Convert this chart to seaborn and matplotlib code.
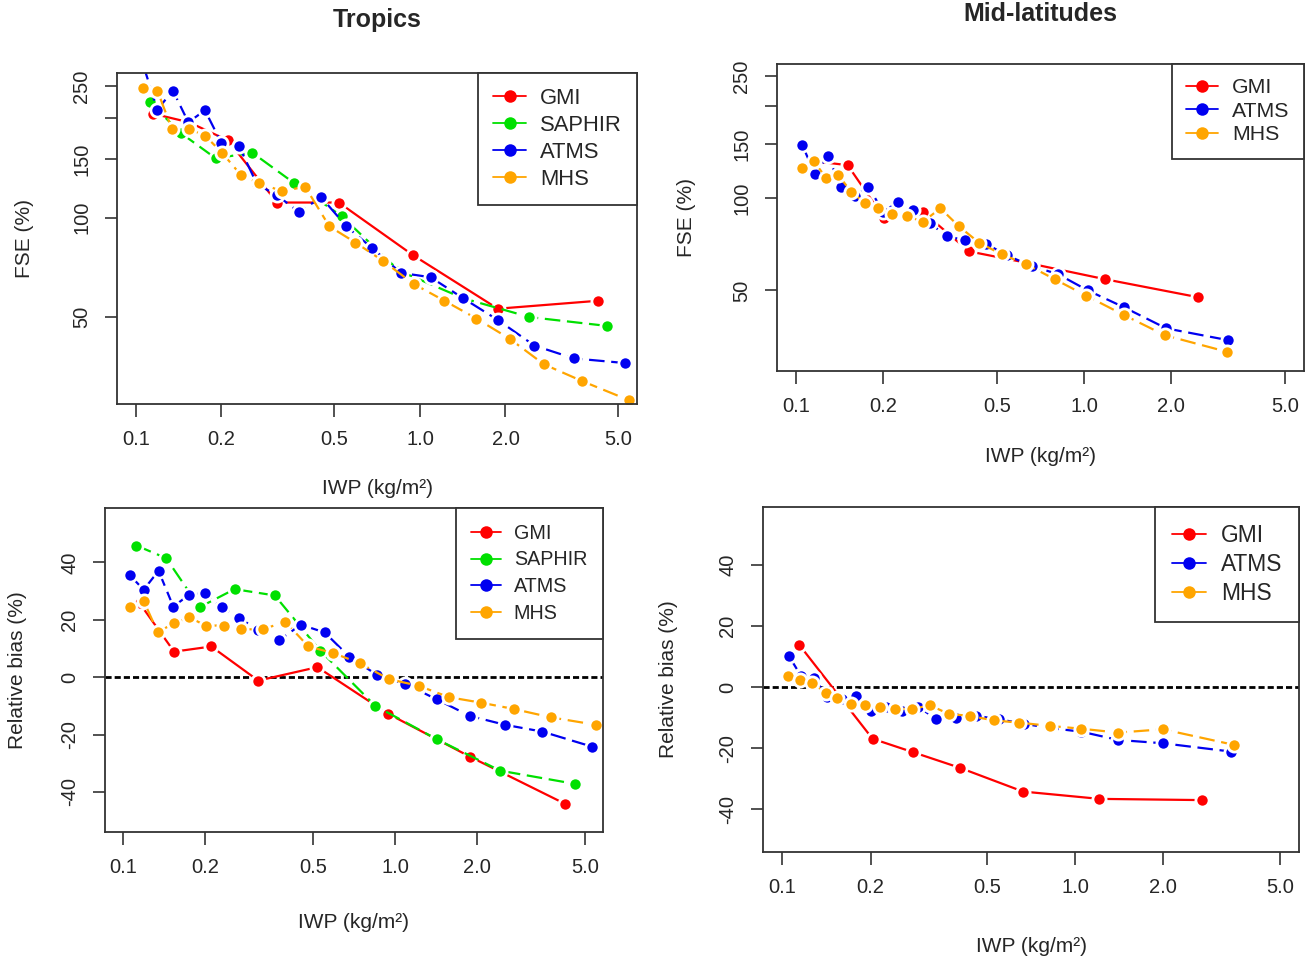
import matplotlib
matplotlib.use('Agg')
import matplotlib.pyplot as plt
from matplotlib.lines import Line2D
from matplotlib.ticker import NullLocator
import seaborn as sns

# ---------------- data ----------------
# Tropics (same IWP bins for FSE and bias)
gmi_x_tr = [0.115, 0.154, 0.211, 0.314, 0.518, 0.944, 1.88, 4.22]
gmi_fse_tr = [206, 194, 171, 111, 111, 77, 53, 56]
gmi_bias_tr = [25.8, 8.9, 10.7, -1.2, 3.5, -12.8, -27.7, -44.2]

saphir_x_tr = [0.112, 0.144, 0.191, 0.257, 0.361, 0.53, 0.845, 1.42, 2.43, 4.57]
saphir_fse_tr = [223, 180, 151, 157, 127, 101, 69, 57, 50, 47]
saphir_bias_tr = [45.9, 41.5, 24.4, 30.7, 28.5, 9.3, -10.0, -21.6, -32.6, -37.2]

atms_x_tr = [0.106, 0.119, 0.135, 0.153, 0.175, 0.2, 0.231, 0.267, 0.313, 0.374,
             0.45, 0.551, 0.677, 0.857, 1.09, 1.42, 1.88, 2.53, 3.48, 5.28]
atms_fse_tr = [290, 212, 242, 194, 211, 168, 164, 126, 117, 104,
               115, 94, 81, 68, 66, 57, 49, 41, 37.5, 36.3]
atms_bias_tr = [35.5, 30.5, 37.1, 24.6, 28.8, 29.3, 24.3, 20.8, 16.3, 12.8,
                18.3, 15.6, 7.2, 0.8, -2.4, -7.7, -13.5, -16.6, -19.0, -24.2]

mhs_x_tr = [0.106, 0.119, 0.134, 0.154, 0.175, 0.201, 0.235, 0.272, 0.328, 0.394,
            0.48, 0.593, 0.74, 0.95, 1.22, 1.58, 2.07, 2.73, 3.73, 5.46]
mhs_fse_tr = [246, 242, 185, 185, 177, 157, 134, 127, 120, 124,
              94, 84, 74, 63, 56, 49.5, 43, 36, 32, 28]
mhs_bias_tr = [24.6, 26.6, 15.7, 18.8, 20.9, 18.0, 18.0, 16.7, 16.7, 19.4,
               10.7, 8.4, 4.9, -0.7, -3.0, -7.0, -8.9, -11.1, -14.0, -16.6]

# Mid-latitudes, FSE
gmi_x_ml_fse = [0.114, 0.151, 0.202, 0.276, 0.399, 0.66, 1.18, 2.49]
gmi_fse_ml = [132, 128, 86, 90, 67, 61, 54.4, 47.5]
atms_x_ml_fse = [0.105, 0.116, 0.129, 0.143, 0.160, 0.178, 0.201, 0.225, 0.254, 0.291,
                 0.333, 0.385, 0.456, 0.540, 0.659, 0.811, 1.03, 1.38, 1.93, 3.17]
atms_fse_ml = [149, 120, 137, 109, 101.5, 109, 90, 97, 91.4, 83,
               75, 73, 71, 65, 60, 56.5, 50, 44, 37.6, 34.4]
mhs_x_ml_fse = [0.105, 0.115, 0.127, 0.140, 0.155, 0.173, 0.193, 0.216, 0.242, 0.276,
                0.317, 0.367, 0.432, 0.519, 0.630, 0.79, 1.02, 1.38, 1.91, 3.15]
mhs_fse_ml = [125.6, 132, 116.5, 119, 105, 96.5, 92.6, 88.7, 87.3, 83.7,
              92.6, 81, 71.5, 65.5, 60.8, 54.4, 48, 41.5, 35.7, 31.5]

# Mid-latitudes, relative bias
gmi_x_ml_bias = [0.114, 0.203, 0.279, 0.403, 0.663, 1.21, 2.70]
gmi_bias_ml = [13.9, -16.9, -21.3, -26.4, -34.2, -36.6, -37.0]
atms_x_ml_bias = [0.105, 0.116, 0.128, 0.142, 0.160, 0.178, 0.200, 0.225, 0.257, 0.290,
                  0.335, 0.390, 0.459, 0.547, 0.666, 0.821, 1.05, 1.40, 2.0, 3.40]
atms_bias_ml = [10.3, 3.5, 3.0, -3.1, -3.8, -2.9, -7.7, -6.4, -7.7, -6.4,
                -10.4, -10.2, -9.4, -10.5, -12.0, -13.4, -14.6, -17.3, -18.4, -21.1]
mhs_x_ml_bias = [0.1045, 0.115, 0.1265, 0.1405, 0.154, 0.172, 0.192, 0.215, 0.243, 0.277,
                 0.320, 0.370, 0.436, 0.526, 0.640, 0.817, 1.045, 1.40, 1.99, 3.48]
mhs_bias_ml = [3.5, 2.4, 1.3, -1.8, -3.6, -5.5, -6.0, -6.4, -7.1, -7.1,
               -6.0, -8.8, -9.4, -10.9, -11.6, -12.7, -13.6, -14.9, -13.8, -18.9]

x_ticks = [0.1, 0.2, 0.5, 1.0, 2.0, 5.0]
x_ticklabels = ['0.1', '0.2', '0.5', '1.0', '2.0', '5.0']
fse_ticks = [50, 100, 150, 200, 250]
fse_ticklabels = ['50', '100', '150', '', '250']
bias_ticks = [-40, -20, 0, 20, 40]
bias_ticklabels = ['-40', '-20', '0', '20', '40']

colors = {'GMI': '#FF0000', 'SAPHIR': '#00E000', 'ATMS': '#0000F0', 'MHS': '#FFA500'}
styles = {'GMI': '-', 'SAPHIR': (0, (7, 3)), 'ATMS': (0, (7, 3)), 'MHS': (0, (7, 3))}

# ---------------- figure ----------------
sns.set_style('white')
plt.rcParams['font.family'] = ['Liberation Sans', 'DejaVu Sans']

W, H = 1308, 966
fig = plt.figure(figsize=(W / 100, H / 100), dpi=100)


def draw_panel(box, series, kind, leg, ylab_x, xlab_y):
    x0, y0, x1, y1 = box
    ax = fig.add_axes([x0 / W, 1 - y1 / H, (x1 - x0) / W, (y1 - y0) / H])
    ax.set_xscale('log')
    if kind == 'fse':
        ax.set_yscale('log')
    else:
        ax.axhline(0, color='black', lw=2, ls=(0, (2.2, 1.1)), zorder=1)

    for name, xs, ys in series:
        sns.lineplot(x=xs, y=ys, ax=ax, color=colors[name], linestyle=styles[name],
                     lw=1.6, marker='o', markersize=9.5, markeredgecolor='white',
                     markeredgewidth=2, errorbar=None, sort=False)

    ax.set_xlim(0.0858, 5.81)
    ax.set_xticks(x_ticks)
    ax.set_xticklabels(x_ticklabels)
    ax.xaxis.set_minor_locator(NullLocator())
    if kind == 'fse':
        ax.set_ylim(27.3, 273.5)
        ax.set_yticks(fse_ticks)
        ax.set_yticklabels(fse_ticklabels)
        ax.yaxis.set_minor_locator(NullLocator())
        ax.set_ylabel('FSE (%)', fontsize=15)
    else:
        ax.set_ylim(-54, 59)
        ax.set_yticks(bias_ticks)
        ax.set_yticklabels(bias_ticklabels)
        ax.set_ylabel('Relative bias (%)', fontsize=15)
    ax.set_xlabel('IWP (kg/m²)', fontsize=15)

    ax.tick_params(direction='out', length=9, width=1.2, color='#333333',
                   labelsize=14.5, pad=9.5, bottom=True, left=True, top=False, right=False)
    ax.tick_params(axis='y', labelrotation=90)
    for t in ax.get_yticklabels():
        t.set_va('center')

    ax.xaxis.set_label_coords(0.5, -(xlab_y - y1) / (y1 - y0))
    ax.xaxis.label.set_va('center')
    ax.yaxis.set_label_coords((ylab_x - x0) / (x1 - x0), 0.5)
    ax.yaxis.label.set_va('center')

    for s in ax.spines.values():
        s.set_color('#333333')
        s.set_linewidth(1.3)

    size, spacing, pad = leg
    names = [s[0] for s in series]
    handles = [Line2D([0], [0], color=colors[n], lw=1.3, marker='o', markersize=9,
                      markeredgewidth=0) for n in names]
    lg = ax.legend(handles, names, loc='upper right', bbox_to_anchor=(1, 1),
                   borderaxespad=0, fontsize=size, frameon=True, fancybox=False,
                   framealpha=1, edgecolor='#333333', handlelength=1.5,
                   handletextpad=0.65, borderpad=pad, labelspacing=spacing)
    lg.get_frame().set_linewidth(1.3)
    return ax


draw_panel((117, 73, 637, 404),
           [('GMI', gmi_x_tr, gmi_fse_tr), ('SAPHIR', saphir_x_tr, saphir_fse_tr),
            ('ATMS', atms_x_tr, atms_fse_tr), ('MHS', mhs_x_tr, mhs_fse_tr)],
           'fse', (15.8, 0.27, 0.68), 25, 488)
draw_panel((777, 64, 1304, 371),
           [('GMI', gmi_x_ml_fse, gmi_fse_ml), ('ATMS', atms_x_ml_fse, atms_fse_ml),
            ('MHS', mhs_x_ml_fse, mhs_fse_ml)],
           'fse', (15.3, 0.21, 0.68), 686, 457)
draw_panel((105, 508, 603, 832),
           [('GMI', gmi_x_tr, gmi_bias_tr), ('SAPHIR', saphir_x_tr, saphir_bias_tr),
            ('ATMS', atms_x_tr, atms_bias_tr), ('MHS', mhs_x_tr, mhs_bias_tr)],
           'bias', (14.2, 0.39, 0.8), 18, 922)
draw_panel((763, 507, 1299, 852),
           [('GMI', gmi_x_ml_bias, gmi_bias_ml), ('ATMS', atms_x_ml_bias, atms_bias_ml),
            ('MHS', mhs_x_ml_bias, mhs_bias_ml)],
           'bias', (16.4, 0.27, 0.74), 668, 947)

fig.text(377 / W, 1 - 27 / H, 'Tropics', ha='center', va='baseline',
         fontsize=18, fontweight='bold')
fig.text(1040 / W, 1 - 21 / H, 'Mid-latitudes', ha='center', va='baseline',
         fontsize=18, fontweight='bold')

fig.savefig('out.png', dpi=100)
